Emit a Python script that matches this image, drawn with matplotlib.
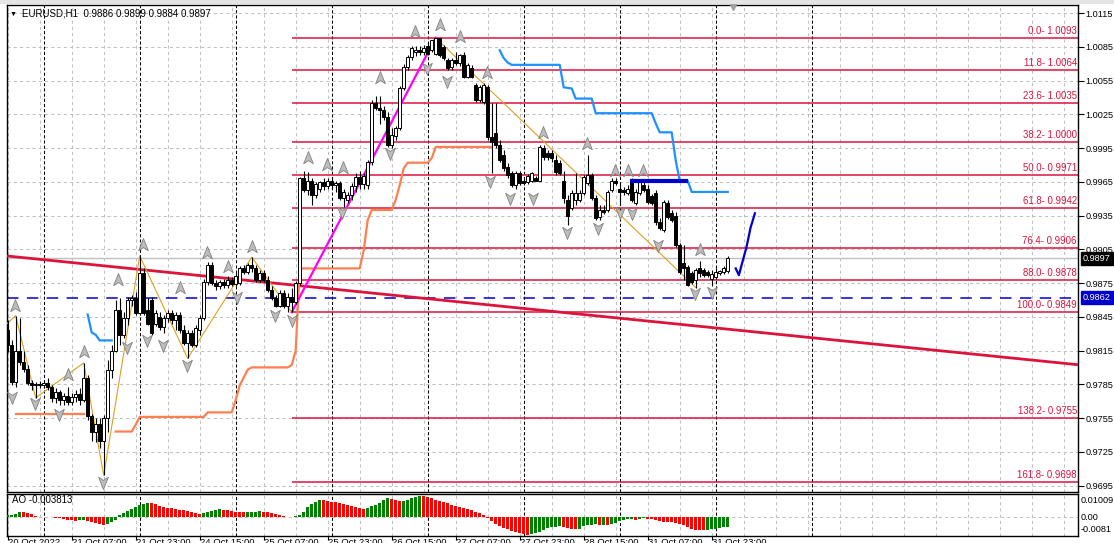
import matplotlib
matplotlib.use("Agg")
import matplotlib.pyplot as plt
from matplotlib.path import Path
from matplotlib.patches import Rectangle
import matplotlib.transforms as mtrans

plt.rcParams['font.family'] = ['Liberation Sans', 'DejaVu Sans']

# ---------------- data ----------------
symbol_title = "EURUSD,H1  0.9886 0.9899 0.9884 0.9897"
ao_title = "AO -0.003813"

opens = [0.9833,0.9820,0.9787,0.9815,0.9805,0.9799,0.9786,0.9784,0.9785,0.9784,
 0.9786,0.9783,0.9773,0.9778,0.9771,0.9775,0.9769,0.9774,0.9776,0.9771,
 0.9791,0.9757,0.9743,0.9750,0.9735,0.9755,0.9798,0.9815,0.9851,0.9829,
 0.9844,0.9860,0.9862,0.9848,0.9884,0.9851,0.9860,0.9839,0.9845,0.9836,
 0.9844,0.9848,0.9842,0.9847,0.9833,0.9822,0.9831,0.9820,0.9833,0.9844,
 0.9876,0.9891,0.9875,0.9872,0.9876,0.9873,0.9878,0.9874,0.9875,0.9888,
 0.9885,0.9891,0.9888,0.9878,0.9884,0.9878,0.9869,0.9862,0.9855,0.9866,
 0.9855,0.9863,0.9858,0.9875,0.9968,0.9958,0.9966,0.9953,0.9959,0.9965,
 0.9961,0.9966,0.9962,0.9964,0.9951,0.9949,0.9953,0.9961,0.9969,0.9963,
 0.9962,0.9983,1.0035,1.0031,1.0029,1.0023,0.9998,1.0006,1.0013,1.0048,
 1.0067,1.0076,1.0080,1.0082,1.0080,1.0086,1.0082,1.0079,1.0093,1.0085,
 1.0073,1.0067,1.0073,1.0071,1.0078,1.0058,1.0066,1.0051,1.0038,1.0036,
 1.0049,1.0005,1.0008,0.9998,0.9989,0.9978,0.9973,0.9962,0.9973,0.9966,
 0.9965,0.9966,0.9968,0.9966,0.9995,0.9991,0.9991,0.9984,0.9982,0.9966,
 0.9949,0.9942,0.9949,0.9949,0.9955,0.9964,0.9971,0.9951,0.9934,0.9940,
 0.9940,0.9958,0.9966,0.9959,0.9958,0.9955,0.9966,0.9946,0.9955,0.9962,
 0.9959,0.9952,0.9955,0.9929,0.9922,0.9946,0.9937,0.9935,0.9909,0.9893,
 0.9889,0.9884,0.9878,0.9888,0.9887,0.9885,0.9879,0.9880,0.9884,0.9885,
 0.9886]

highs = [0.9842,0.9824,0.9846,0.9844,0.9815,0.9802,0.9789,0.9787,0.9788,0.9789,
 0.9791,0.9784,0.9782,0.9780,0.9777,0.9783,0.9777,0.9780,0.9782,0.9804,
 0.9793,0.9759,0.9755,0.9755,0.9758,0.9807,0.9820,0.9860,0.9862,0.9849,
 0.9863,0.9864,0.9867,0.9899,0.9888,0.9862,0.9863,0.9851,0.9849,0.9847,
 0.9851,0.9851,0.9849,0.9849,0.9838,0.9833,0.9833,0.9838,0.9847,0.9879,
 0.9894,0.9894,0.9878,0.9878,0.9879,0.9881,0.9880,0.9884,0.9890,0.9891,
 0.9893,0.9898,0.9891,0.9887,0.9887,0.9881,0.9872,0.9864,0.9869,0.9869,
 0.9866,0.9871,0.9877,0.9969,0.9975,0.9974,0.9968,0.9965,0.9966,0.9968,
 0.9968,0.9969,0.9966,0.9966,0.9959,0.9956,0.9964,0.9973,0.9975,0.9973,
 0.9984,1.0038,1.0041,1.0041,1.0032,1.0027,1.0013,1.0015,1.0050,1.0070,
 1.0078,1.0086,1.0086,1.0086,1.0087,1.0089,1.0091,1.0093,1.0093,1.0087,
 1.0075,1.0075,1.0080,1.0079,1.0080,1.0071,1.0069,1.0053,1.0051,1.0053,
 1.0051,1.0035,1.0035,1.0002,0.9993,0.9982,0.9975,0.9975,0.9975,0.9968,
 0.9972,0.9974,0.9970,0.9998,0.9998,0.9993,0.9993,0.9989,0.9984,0.9975,
 0.9953,0.9958,0.9973,0.9958,0.9971,0.9989,0.9973,0.9953,0.9944,0.9944,
 0.9958,0.9968,0.9968,0.9965,0.9960,0.9962,0.9968,0.9959,0.9966,0.9965,
 0.9962,0.9954,0.9958,0.9933,0.9949,0.9949,0.9940,0.9938,0.9911,0.9909,
 0.9891,0.9886,0.9888,0.9895,0.9888,0.9887,0.9887,0.9888,0.9887,0.9890,
 0.9899]

lows = [0.9814,0.9784,0.9783,0.9802,0.9796,0.9784,0.9780,0.9773,0.9782,0.9782,
 0.9780,0.9769,0.9768,0.9767,0.9767,0.9767,0.9767,0.9769,0.9767,0.9769,
 0.9753,0.9735,0.9734,0.9728,0.9704,0.9743,0.9791,0.9814,0.9820,0.9826,
 0.9838,0.9855,0.9847,0.9847,0.9847,0.9838,0.9829,0.9837,0.9833,0.9831,
 0.9840,0.9839,0.9833,0.9831,0.9820,0.9808,0.9818,0.9818,0.9829,0.9842,
 0.9873,0.9873,0.9869,0.9870,0.9871,0.9871,0.9872,0.9872,0.9873,0.9883,
 0.9883,0.9885,0.9876,0.9876,0.9876,0.9867,0.9860,0.9854,0.9854,0.9853,
 0.9849,0.9849,0.9856,0.9873,0.9956,0.9953,0.9944,0.9951,0.9956,0.9958,
 0.9959,0.9959,0.9956,0.9949,0.9943,0.9946,0.9949,0.9956,0.9959,0.9959,
 0.9959,0.9980,1.0029,1.0016,1.0020,0.9996,0.9995,1.0002,1.0011,1.0047,
 1.0064,1.0073,1.0077,1.0078,1.0078,1.0078,1.0080,1.0078,1.0076,1.0073,
 1.0064,1.0064,1.0069,1.0068,1.0057,1.0057,1.0057,1.0036,1.0036,1.0034,
 1.0002,0.9973,0.9995,0.9983,0.9975,0.9968,0.9960,0.9959,0.9962,0.9962,
 0.9963,0.9965,0.9966,0.9966,0.9984,0.9984,0.9983,0.9971,0.9971,0.9946,
 0.9927,0.9940,0.9944,0.9947,0.9953,0.9962,0.9949,0.9931,0.9931,0.9936,
 0.9938,0.9956,0.9962,0.9944,0.9953,0.9953,0.9947,0.9944,0.9953,0.9956,
 0.9945,0.9944,0.9927,0.9922,0.9920,0.9932,0.9929,0.9907,0.9883,0.9878,
 0.9872,0.9874,0.9871,0.9880,0.9880,0.9880,0.9872,0.9879,0.9882,0.9883,
 0.9884]

closes = [0.9820,0.9787,0.9815,0.9805,0.9799,0.9786,0.9784,0.9785,0.9784,0.9786,
 0.9783,0.9773,0.9778,0.9771,0.9775,0.9769,0.9774,0.9776,0.9771,0.9791,
 0.9757,0.9743,0.9750,0.9735,0.9755,0.9798,0.9815,0.9851,0.9829,0.9844,
 0.9860,0.9862,0.9848,0.9884,0.9848,0.9839,0.9831,0.9848,0.9836,0.9844,
 0.9848,0.9842,0.9847,0.9833,0.9822,0.9831,0.9820,0.9835,0.9844,0.9876,
 0.9891,0.9875,0.9872,0.9876,0.9873,0.9878,0.9874,0.9881,0.9888,0.9885,
 0.9891,0.9888,0.9878,0.9884,0.9878,0.9869,0.9862,0.9855,0.9866,0.9855,
 0.9863,0.9858,0.9875,0.9968,0.9958,0.9966,0.9953,0.9963,0.9965,0.9961,
 0.9966,0.9962,0.9964,0.9951,0.9956,0.9953,0.9961,0.9969,0.9963,0.9970,
 0.9983,1.0035,1.0031,1.0029,1.0023,0.9998,1.0007,1.0013,1.0048,1.0067,
 1.0076,1.0084,1.0082,1.0080,1.0084,1.0079,1.0091,1.0093,1.0078,1.0075,
 1.0066,1.0073,1.0071,1.0078,1.0058,1.0069,1.0058,1.0038,1.0049,1.0051,
 1.0005,1.0000,0.9998,0.9984,0.9977,0.9971,0.9962,0.9973,0.9964,0.9964,
 0.9970,0.9973,0.9966,0.9996,0.9987,0.9987,0.9986,0.9974,0.9973,0.9951,
 0.9935,0.9955,0.9955,0.9955,0.9969,0.9971,0.9951,0.9933,0.9940,0.9938,
 0.9956,0.9966,0.9964,0.9956,0.9956,0.9959,0.9949,0.9956,0.9965,0.9958,
 0.9947,0.9946,0.9929,0.9924,0.9947,0.9934,0.9931,0.9909,0.9885,0.9888,
 0.9873,0.9876,0.9887,0.9884,0.9882,0.9882,0.9883,0.9885,0.9886,0.9888,
 0.9897]

ao_values = [0.00083,0.00093,0.00132,0.00245,0.00211,0.00181,0.00132,0.00049,0.00002,-0.00015,
 -0.00025,-0.00034,-0.00049,-0.00083,-0.00113,-0.00147,-0.00162,-0.00196,-0.00172,-0.00147,
 -0.00196,-0.00245,-0.00294,-0.00343,-0.00407,-0.00368,-0.00270,-0.00147,0.00074,0.00196,
 0.00294,0.00392,0.00490,0.00588,0.00637,0.00662,0.00652,0.00603,0.00539,0.00490,
 0.00441,0.00407,0.00377,0.00343,0.00309,0.00294,0.00245,0.00196,0.00147,0.00172,
 0.00221,0.00260,0.00309,0.00358,0.00343,0.00319,0.00270,0.00245,0.00235,0.00230,
 0.00235,0.00245,0.00250,0.00255,0.00235,0.00211,0.00172,0.00123,0.00060,0.00020,
 -0.00015,-0.00025,0.00015,0.00083,0.00245,0.00456,0.00622,0.00735,0.00818,0.00799,
 0.00750,0.00735,0.00701,0.00671,0.00622,0.00588,0.00539,0.00490,0.00441,0.00392,
 0.00407,0.00505,0.00588,0.00686,0.00799,0.00916,0.00882,0.00818,0.00750,0.00784,
 0.00833,0.00897,0.00965,0.01009,0.00995,0.00965,0.00897,0.00833,0.00784,0.00735,
 0.00652,0.00588,0.00539,0.00490,0.00441,0.00377,0.00328,0.00245,0.00162,0.00064,
 -0.00064,-0.00196,-0.00343,-0.00441,-0.00554,-0.00622,-0.00686,-0.00750,-0.00818,-0.00848,
 -0.00872,-0.00833,-0.00784,-0.00735,-0.00652,-0.00573,-0.00515,-0.00490,-0.00441,-0.00490,
 -0.00554,-0.00588,-0.00603,-0.00588,-0.00441,-0.00407,-0.00392,-0.00377,-0.00407,-0.00402,
 -0.00407,-0.00358,-0.00294,-0.00196,-0.00147,-0.00113,-0.00098,-0.00162,-0.00113,-0.00083,
 -0.00088,-0.00113,-0.00147,-0.00196,-0.00245,-0.00270,-0.00279,-0.00309,-0.00343,-0.00392,
 -0.00490,-0.00588,-0.00637,-0.00652,-0.00657,-0.00637,-0.00622,-0.00588,-0.00539,-0.00505,
 -0.00490]

price_ticks = [1.0115,1.0085,1.0055,1.0025,0.9995,0.9965,0.9935,0.9905,
               0.9875,0.9845,0.9815,0.9785,0.9755,0.9725,0.9695]

time_label_bars = [0, 16, 32, 48, 64, 80, 96, 112, 128, 144, 160, 176]
time_labels = ["20 Oct 2022", "21 Oct 07:00", "21 Oct 23:00", "24 Oct 15:00",
               "25 Oct 07:00", "25 Oct 23:00", "26 Oct 15:00", "27 Oct 07:00",
               "27 Oct 23:00", "28 Oct 15:00", "31 Oct 07:00", "31 Oct 23:00"]

fib_levels = [1.0093,1.0064,1.0035,1.0000,0.9971,0.9942,0.9906,0.9878,0.9849,0.9755,0.9698]
fib_names = ["0.0","11.8","23.6","38.2","50.0","61.8","76.4","88.0","100.0","138.2","161.8"]
fib_start_bar = 71

bid_price = 0.9897
hline_price = 0.9862

trend_bars = [0, 180]
trend_prices = [0.9899, 0.9834]

swing_bars = [71, 107]
swing_prices = [0.9849, 1.0093]

zigzag_bars = [-2, 2, 7, 19, 24, 33, 45, 61, 71, 107, 172]
zigzag_prices = [0.9833, 0.9846, 0.9773, 0.9804, 0.9704, 0.9899, 0.9808, 0.9898, 0.9849, 1.0093, 0.9871]

orange_a_bars = [2, 19]
orange_a_vals = [0.9759, 0.9759]
orange_b_bars = [27, 31, 32, 33, 49, 50, 56, 57, 58, 59, 60, 61, 70, 71, 72, 73, 88, 89,
                 90, 91, 96, 97, 98, 99, 100, 105, 106, 107, 121]
orange_b_vals = [0.9743, 0.9743, 0.9749, 0.9756, 0.9756, 0.9760, 0.9760, 0.9771, 0.9784,
                 0.9791, 0.9798, 0.9800, 0.9800, 0.9802, 0.9815, 0.9888, 0.9888, 0.9904,
                 0.9931, 0.9940, 0.9940, 0.9949, 0.9962, 0.9977, 0.9982, 0.9982, 0.9986,
                 0.9996, 0.9996]

blue_a_bars = [20, 21, 22, 23, 26]
blue_a_vals = [0.9847, 0.9831, 0.9829, 0.9824, 0.9824]
blue_b_bars = [123, 124, 125, 126, 138, 139, 141, 142, 146, 147, 161, 162, 163, 166, 167,
               168, 170, 171, 180]
blue_b_vals = [1.0082, 1.0075, 1.0071, 1.0069, 1.0069, 1.0049, 1.0048, 1.0039, 1.0039,
               1.0026, 1.0026, 1.0017, 1.0009, 1.0009, 0.9984, 0.9966, 0.9966, 0.9956, 0.9956]

level_bar_from, level_bar_to, level_price = 155.6, 170.1, 0.9966

proj_bars = [182.0, 182.8, 183.7, 184.7, 185.7, 186.8]
proj_prices = [0.9888, 0.9882, 0.9894, 0.9907, 0.9924, 0.9937]

frac_up_bars = [1.8, 15.1, 19.1, 27.6, 33.8, 43.1, 49.8, 55.1, 61.1, 75.1, 79.8, 83.8,
                93.1, 101.8, 108.1, 113.1, 119.8, 133.8, 144.8, 151.8, 155.1, 158.8, 173.1]
frac_up_prices = [0.9855, 0.9793, 0.9814, 0.9878, 0.9909, 0.9871, 0.9902, 0.9889, 0.9907,
                  0.9986, 0.9980, 0.9977, 1.0057, 1.0098, 1.0104, 1.0094, 1.0062, 1.0008,
                  0.9999, 0.9975, 0.9975, 0.9975, 0.9904]
frac_dn_bars = [1.1, 6.8, 12.8, 23.8, 29.8, 34.8, 38.8, 44.8, 57.3, 66.8, 71.1, 83.6, 95.6,
                104.8, 109.8, 120.6, 125.6, 131.3, 139.8, 147.6, 153.1, 156.1, 162.6, 171.8, 176.1]
frac_dn_prices = [0.9774, 0.9768, 0.9759, 0.9698, 0.9818, 0.9824, 0.9820, 0.9802, 0.9863,
                  0.9847, 0.9842, 0.9938, 0.9991, 1.0066, 1.0055, 0.9966, 0.9951, 0.9951,
                  0.9920, 0.9924, 0.9938, 0.9937, 0.9909, 0.9866, 0.9867]

ao_labels = ["0.01009", "0.00", "-0.0081"]

# ---------------- figure ----------------
W, H = 1114, 543
fig = plt.figure(figsize=(W / 100, H / 100), dpi=100)
fig.patch.set_facecolor("white")
# window top strip
fig.add_artist(Rectangle((0, 1 - 4 / H), 1, 4 / H, transform=fig.transFigure,
                         facecolor="#E4E4E4", edgecolor="none"))
L, R = 7, 1078
ax = fig.add_axes([L / W, 1 - 491.7 / H, (R - L) / W, (491.7 - 5) / H])
ax2 = fig.add_axes([L / W, 1 - 536 / H, (R - L) / W, (536 - 494) / H])

XMIN, XMAX = -0.175, 267.575
ax.set_xlim(XMIN, XMAX)
ax.set_ylim(0.96895, 1.01222)
ax2.set_xlim(XMIN, XMAX)
ax2.set_ylim(-0.00942, 0.01108)

GRID = "#C0C0C0"
for a in (ax, ax2):
    for s in a.spines.values():
        s.set_color("black")
        s.set_linewidth(1.0)
    a.set_facecolor("white")
    for k in range(0, 34):
        a.axvline(8 * k, color=GRID, lw=0.75, dashes=(3, 3), zorder=0)
    for k in range(0, 9):
        a.axvline(9 + 24 * k, color="black", lw=0.75, dashes=(3, 2), zorder=0.5)
ax.set_xticks([])

for p in price_ticks:
    ax.axhline(p, color=GRID, lw=0.75, dashes=(3, 3), zorder=0)
ax2.axhline(0, color=GRID, lw=0.75, dashes=(3, 3), zorder=0)

# right axis
ax.yaxis.tick_right()
ax.set_yticks(price_ticks)
ax.set_yticklabels([f"{p:.4f}" for p in price_ticks])
ax.tick_params(axis="y", direction="out", length=4, width=0.8, pad=1.5, labelsize=6.6, colors="black")
ax2.yaxis.tick_right()
ax2.set_yticks([])

# time axis under the indicator panel (cut by the window edge as in the screenshot)
ax2.set_xticks(time_label_bars)
ax2.set_xticklabels(time_labels, ha="left")
ax2.tick_params(axis="x", direction="out", length=3, width=0.8, pad=-1.5, labelsize=6.8)

# bid line
ax.axhline(bid_price, color="#C0C0C0", lw=1.0, zorder=1)

# fib
ax.hlines(fib_levels, fib_start_bar, XMAX, color="#DC143C", lw=1.1, zorder=2)
for lv, nm in zip(fib_levels, fib_names):
    ax.text(XMAX - 0.3, lv + 0.00018, f"{nm}- {lv:.4f}", color="#DC143C", fontsize=6.9,
            ha="right", va="bottom", zorder=3)

# horizontal blue dashed
ax.axhline(hline_price, color="#0000CD", lw=1.1, dashes=(7.5, 5.5), zorder=2)

# trend line (ray)
slope = (trend_prices[1] - trend_prices[0]) / (trend_bars[1] - trend_bars[0])
tx = [XMIN, XMAX]
ty = [trend_prices[0] + slope * (x - trend_bars[0]) for x in tx]
ax.plot(tx, ty, color="#DC143C", lw=2.0, zorder=3, solid_capstyle="butt")

# orange & blue indicator lines
ax.plot(orange_a_bars, orange_a_vals, color="#FF7F50", lw=1.6, zorder=3)
ax.plot(orange_b_bars, orange_b_vals, color="#FF7F50", lw=1.6, zorder=3)
ax.plot(blue_a_bars, blue_a_vals, color="#1E90FF", lw=1.6, zorder=3)
ax.plot(blue_b_bars, blue_b_vals, color="#1E90FF", lw=1.6, zorder=3)

# zigzag
ax.plot(zigzag_bars, zigzag_prices, color="#E0A020", lw=0.8, zorder=4)
# swing line
ax.plot(swing_bars, swing_prices, color="#FF00FF", lw=1.6, zorder=5)

# candles
xs = list(range(len(closes)))
ax.vlines(xs, lows, highs, color="black", lw=0.8, zorder=6)
for x, o, c in zip(xs, opens, closes):
    up = c >= o
    hgt = c - o
    ax.bar(x, hgt if abs(hgt) > 1e-9 else 0.00002, bottom=o, width=0.68,
           color="white" if up else "black", edgecolor="black", linewidth=0.7, zorder=7)

# fractal arrows
up_path = Path([(0, 1), (0.7, -0.75), (0, -0.3), (-0.7, -0.75), (0, 1)],
               [Path.MOVETO, Path.LINETO, Path.LINETO, Path.LINETO, Path.CLOSEPOLY])
dn_path = Path([(0, -1), (0.7, 0.75), (0, 0.3), (-0.7, 0.75), (0, -1)],
               [Path.MOVETO, Path.LINETO, Path.LINETO, Path.LINETO, Path.CLOSEPOLY])
ax.plot(frac_up_bars, frac_up_prices, ls="none", marker=up_path, ms=10,
        mfc="#BDBDBD", mec="#808080", mew=0.6, zorder=8)
ax.plot(frac_dn_bars, frac_dn_prices, ls="none", marker=dn_path, ms=10,
        mfc="#BDBDBD", mec="#808080", mew=0.6, zorder=8)
ax.plot([181.3], [1.0120], ls="none", marker="v", ms=5, color="#A0A0A0", zorder=8, clip_on=False)

# dark blue level and projection
ax.plot([level_bar_from, level_bar_to], [level_price, level_price], color="#0000CD", lw=3.0,
        zorder=9, solid_capstyle="butt")
ax.plot(proj_bars, proj_prices, color="#0000CD", lw=1.6, zorder=9)

# price boxes on the axis
yt = mtrans.blended_transform_factory(ax.transAxes, ax.transData)
ax.text(1.0045, bid_price, f"{bid_price:.4f}", transform=yt, color="white", fontsize=6.6,
        va="center", ha="left", zorder=20, clip_on=False,
        bbox=dict(boxstyle="square,pad=0.25", fc="black", ec="black"))
ax.text(1.0045, hline_price, f"{hline_price:.4f}", transform=yt, color="white", fontsize=6.6,
        va="center", ha="left", zorder=20, clip_on=False,
        bbox=dict(boxstyle="square,pad=0.25", fc="#0000CD", ec="#0000CD"))

# title
fig.text(10 / W, 1 - 14 / H, "\u25BC", fontsize=5, va="center", ha="left", color="black")
fig.text(22 / W, 1 - 14 / H, symbol_title, fontsize=7, va="center", ha="left", color="black")

# AO
ao_colors = ["#008000" if (i > 0 and ao_values[i] > ao_values[i - 1]) or (i == 0) else "#FF0000"
             for i in range(len(ao_values))]
ax2.bar(xs, ao_values, width=0.7, color=ao_colors, zorder=3)
ax2.text(0.005, 0.85, ao_title, transform=ax2.transAxes, fontsize=7, va="center", ha="left")
for lab, ypix in zip(ao_labels, [500.5, 517.0, 530.0]):
    fig.text(1081 / W, 1 - ypix / H, lab, fontsize=6.6, va="center", ha="left")

fig.savefig("out.png", dpi=100, facecolor="white")
